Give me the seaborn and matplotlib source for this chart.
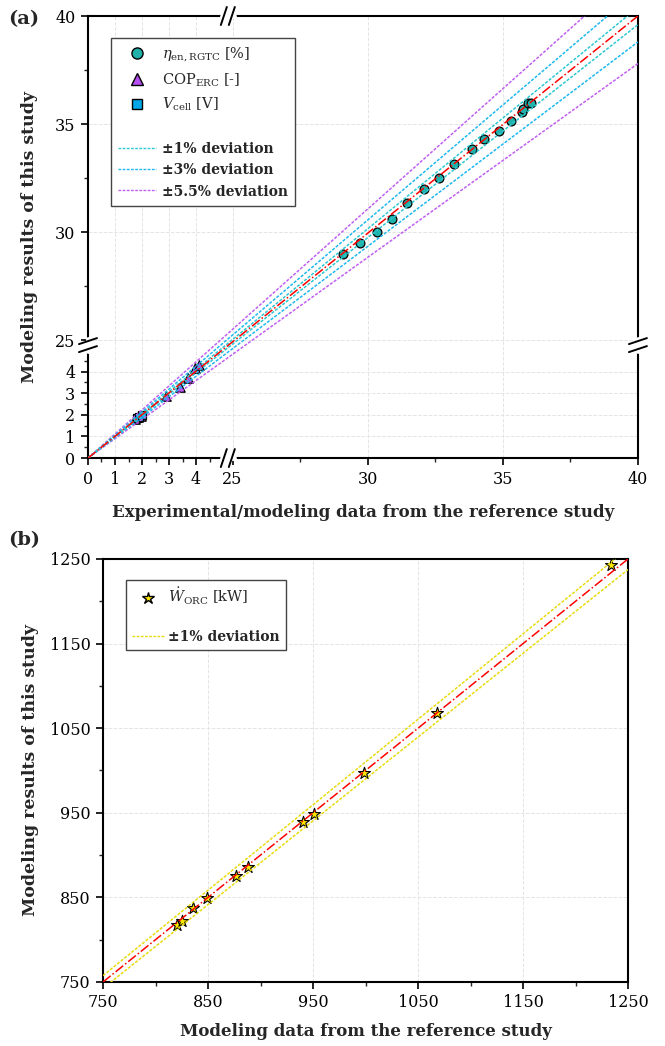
import matplotlib
import matplotlib.pyplot as plt
import numpy as np
import seaborn as sns
from matplotlib.lines import Line2D
from matplotlib.transforms import IdentityTransform

matplotlib.use('Agg')

# ---- data (a): broken-axis parity plot ----
eta_ref = [29.1, 29.7, 30.35, 30.9, 31.45, 32.1, 32.65, 33.2, 33.85, 34.3, 34.85, 35.3, 35.7, 35.75, 35.95, 36.05]
eta_model = [29.0, 29.5, 30.0, 30.6, 31.35, 32.0, 32.5, 33.15, 33.85, 34.3, 34.7, 35.15, 35.55, 35.7, 35.97, 35.97]
cop_ref = [1.75, 1.85, 1.95, 2.9, 3.4, 3.7, 3.95, 4.1]
cop_model = [1.8, 1.9, 1.95, 2.85, 3.3, 3.7, 4.15, 4.3]
vcell_ref = [1.8, 1.9, 2.0]
vcell_model = [1.85, 1.9, 2.0]
dev_a = [0.01, 0.03, 0.055]
dev_a_labels = ['±1% deviation', '±3% deviation', '±5.5% deviation']

# ---- data (b) ----
orc_ref = [820, 825.5, 835.5, 849.5, 876.5, 888, 940, 951, 998.5, 1068, 1234]
orc_model = [817.5, 822.5, 838, 849.5, 875.5, 886.5, 939, 948, 997, 1067.5, 1243]
dev_b = [0.01]

sns.set_theme(style="ticks")
plt.rcParams['font.family'] = ['DejaVu Serif']
plt.rcParams['mathtext.fontset'] = 'dejavuserif'

C_ETA, C_COP, C_V = '#20B2AA', '#B44EF0', '#00A8E8'
C_DEV = ['#2CC8D2', '#1EB8F0', '#C060F0']
C_STAR, C_DEVB = '#FFE800', '#E8DC10'
DASH = (0, (2, 1))


def make_break(lo, hi, gap):
    def fwd(v):
        v = np.asarray(v, dtype=float)
        return np.where(v <= lo, v, np.where(v >= hi, v - hi + lo + gap, lo + (v - lo) * gap / (hi - lo)))

    def inv(t):
        t = np.asarray(t, dtype=float)
        return np.where(t <= lo, t, np.where(t >= lo + gap, t - lo - gap + hi, lo + (t - lo) * (hi - lo) / gap))
    return fwd, inv


def style_axes(ax):
    for s in ax.spines.values():
        s.set_linewidth(1.5)
        s.set_color('black')
    ax.tick_params(which='major', direction='out', length=5, width=1.2, labelsize=11.5, pad=4, colors='black')
    ax.tick_params(which='minor', direction='out', length=3, width=1.0)
    ax.grid(True, which='major', linestyle='--', color='#e4e4e4', linewidth=0.7)
    ax.set_axisbelow(True)


fig = plt.figure(figsize=(6.65, 10.46), dpi=100)

# ================= (a) =================
ax1 = fig.add_axes([0.1323, 0.5621, 0.827, 0.4226])
ax1.set_xscale('function', functions=make_break(5, 25, 0.35))
ax1.set_yscale('function', functions=make_break(5, 25, 0.45))

for d, c in zip(dev_a[::-1], C_DEV[::-1]):
    for k in (1 + d, 1 - d):
        sns.lineplot(x=[0, 40], y=[0, 40 * k], ax=ax1, color=c, linestyle=DASH, linewidth=1.1, zorder=4)
sns.lineplot(x=[0, 40], y=[0, 40], ax=ax1, color='red', linestyle='-.', linewidth=1.1, zorder=5)

sns.scatterplot(x=eta_ref, y=eta_model, ax=ax1, marker='o', s=40, color=C_ETA, edgecolor='black', linewidth=0.9, zorder=3)
sns.scatterplot(x=cop_ref, y=cop_model, ax=ax1, marker='^', s=46, color=C_COP, edgecolor='black', linewidth=0.9, zorder=3)
sns.scatterplot(x=vcell_ref, y=vcell_model, ax=ax1, marker='s', s=30, color=C_V, edgecolor='black', linewidth=0.9, zorder=3)

ax1.set_xlim(0, 40)
ax1.set_ylim(0, 40)
major = [0, 1, 2, 3, 4, 25, 30, 35, 40]
minor = [0.5, 1.5, 2.5, 3.5, 4.5, 27.5, 32.5, 37.5]
ax1.set_xticks(major, [str(v) for v in major])
ax1.set_xticks(minor, minor=True)
ax1.set_yticks(major, [str(v) for v in major])
ax1.set_yticks(minor, minor=True)
style_axes(ax1)
ax1.set_xlabel('Experimental/modeling data from the reference study', fontsize=12, fontweight='bold', labelpad=12)
ax1.set_ylabel('Modeling results of this study', fontsize=12.5, fontweight='bold', labelpad=12)

handles = [
    Line2D([], [], ls='none', marker='o', ms=8, mfc=C_ETA, mec='black', label=r'$\eta_{\mathrm{en,RGTC}}$ [%]'),
    Line2D([], [], ls='none', marker='^', ms=8, mfc=C_COP, mec='black', label=r'COP$_{\mathrm{ERC}}$ [-]'),
    Line2D([], [], ls='none', marker='s', ms=7, mfc=C_V, mec='black', label=r'$V_{\mathrm{cell}}$ [V]'),
    Line2D([], [], ls='none', label=' '),
]
for lab, c in zip(dev_a_labels, C_DEV):
    handles.append(Line2D([], [], color=c, linestyle=DASH, linewidth=1, label=lab))
leg = ax1.legend(handles=handles, loc='upper left', bbox_to_anchor=(0.042, 0.95), borderaxespad=0,
                 fontsize=10.5, frameon=True, fancybox=False, edgecolor='#444444', framealpha=1,
                 labelspacing=0.5, handlelength=2.6, handletextpad=0.4, borderpad=0.5)
leg.get_frame().set_linewidth(1.0)
for t in leg.get_texts()[4:]:
    t.set_fontweight('bold')
    t.set_fontsize(10)

fig.text(0.012, 0.982, '(a)', fontsize=14, fontweight='bold', va='center')

# ================= (b) =================
ax2 = fig.add_axes([0.1549, 0.0612, 0.7895, 0.4044])
for d in dev_b:
    for k in (1 + d, 1 - d):
        sns.lineplot(x=[750, 1250], y=[750 * k, 1250 * k], ax=ax2, color=C_DEVB, linestyle=DASH, linewidth=1.1, zorder=4)
sns.lineplot(x=[750, 1250], y=[750, 1250], ax=ax2, color='red', linestyle='-.', linewidth=1.1, zorder=5)
sns.scatterplot(x=orc_ref, y=orc_model, ax=ax2, marker='*', s=80, color=C_STAR, edgecolor='black', linewidth=0.8, zorder=3)
ax2.set_xlim(750, 1250)
ax2.set_ylim(750, 1250)
ticks_b = [750, 850, 950, 1050, 1150, 1250]
ax2.set_xticks(ticks_b)
ax2.set_yticks(ticks_b)
ax2.set_xticks([800, 900, 1000, 1100, 1200], minor=True)
ax2.set_yticks([800, 900, 1000, 1100, 1200], minor=True)
style_axes(ax2)
ax2.set_xlabel('Modeling data from the reference study', fontsize=12, fontweight='bold', labelpad=8)
ax2.set_ylabel('Modeling results of this study', fontsize=12.5, fontweight='bold', labelpad=8)

handles_b = [
    Line2D([], [], ls='none', marker='*', ms=9, mfc=C_STAR, mec='black', label=r'$\dot{W}_{\mathrm{ORC}}$ [kW]'),
    Line2D([], [], ls='none', label=' '),
    Line2D([], [], color=C_DEVB, linestyle=DASH, linewidth=1, label='±1% deviation'),
]
leg2 = ax2.legend(handles=handles_b, loc='upper left', bbox_to_anchor=(0.044, 0.95), borderaxespad=0,
                  fontsize=10.5, frameon=True, fancybox=False, edgecolor='#444444', framealpha=1,
                  labelspacing=0.3, handlelength=2.2, handletextpad=0.3, borderpad=0.4)
leg2.get_frame().set_linewidth(1.0)
leg2.get_texts()[2].set_fontweight('bold')
leg2.get_texts()[2].set_fontsize(10)

fig.text(0.012, 0.484, '(b)', fontsize=14, fontweight='bold', va='center')


# ---- break marks on panel (a) spines ----
def break_mark(px, py, on_vertical):
    ident = IdentityTransform()
    if on_vertical:
        fig.add_artist(Line2D([px, px], [py - 6, py + 6], color='white', lw=3.5, transform=ident))
        for dy in (-4, 4):
            fig.add_artist(Line2D([px - 9, px + 9], [py + dy - 3, py + dy + 3], color='black', lw=1.4, transform=ident))
    else:
        fig.add_artist(Line2D([px - 6, px + 6], [py, py], color='white', lw=3.5, transform=ident))
        for dx in (-4, 4):
            fig.add_artist(Line2D([px + dx - 3, px + dx + 3], [py - 9, py + 9], color='black', lw=1.4, transform=ident))


for pt, vert in [((15, 0), False), ((15, 40), False), ((0, 15), True), ((40, 15), True)]:
    px, py = ax1.transData.transform(pt)
    break_mark(px, py, vert)

plt.savefig('out.png', dpi=100)
